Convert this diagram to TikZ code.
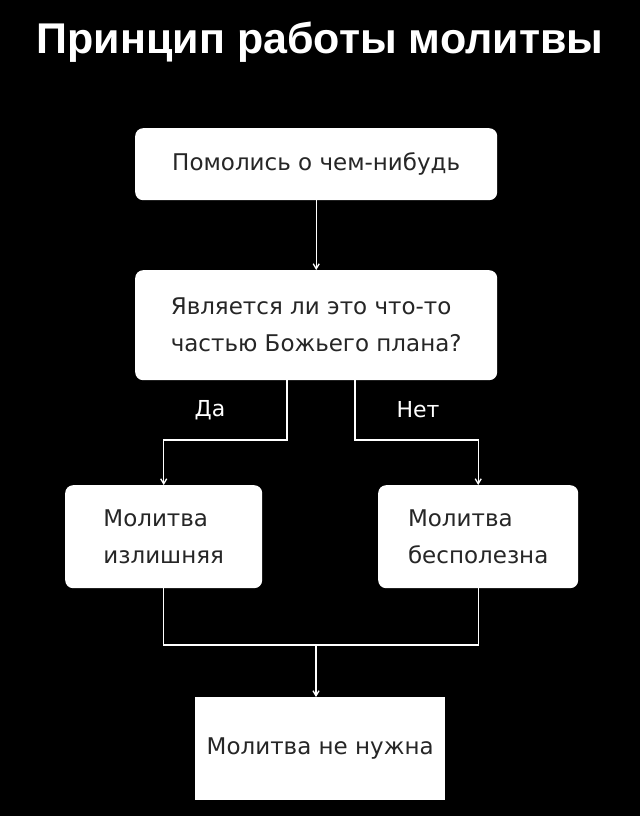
\documentclass[tikz,border=0pt]{standalone}
\usepackage{fontspec}
\setmainfont{Liberation Sans}
\newfontfamily\boxfont{DejaVu Sans}
\usetikzlibrary{arrows.meta}
\begin{document}
\begin{tikzpicture}[x=1pt,y=-1pt,
  box/.style={draw=none,fill=white,rounded corners=8pt,text=black!85,font=\boxfont\fontsize{23}{37}\selectfont,align=left,anchor=north west},
  ln/.style={draw=white,line width=1.3pt},
  arr/.style={ln,-{Straight Barb[length=5pt,width=6pt]}},
  lab/.style={text=white,font=\boxfont\fontsize{22}{26}\selectfont}]
\fill[black] (0,0) rectangle (640,816);
\useasboundingbox (0,0) rectangle (640,816);
\node[text=white,font=\fontsize{43}{48}\bfseries\selectfont] (title) at (320,42) {Принцип работы молитвы};
\node[box,minimum width=362pt,minimum height=72pt] (b1) at (135,128) {Помолись о чем-нибудь};
\node[box,minimum width=362pt,minimum height=110pt] (b2) at (135,270) {Является ли это что-то\\частью Божьего плана?};
\node[box,minimum width=197pt,minimum height=103pt] (b3) at (65,485) {Молитва\\излишняя};
\node[box,minimum width=200pt,minimum height=103pt] (b4) at (378,485) {Молитва\\бесполезна};
\node[box,rounded corners=0pt,minimum width=250pt,minimum height=103pt] (b5) at (195,697) {Молитва не нужна};
\node[lab] (da) at (210,410) {Да};
\node[lab] (net) at (418,410) {Нет};
\coordinate (jl) at (287,440);
\coordinate (jr) at (355,440);
\coordinate (m) at (316,645);
\draw[arr] (b1.south) -- (b2.north);
\draw[arr] (b2.south -| jl) -- (jl) -| (b3.north);
\draw[arr] (b2.south -| jr) -- (jr) -| (b4.north);
\draw[ln] (b3.south) |- (m) -| (b4.south);
\draw[arr] (m) -- (b5.north -| m);
\end{tikzpicture}
\end{document}
